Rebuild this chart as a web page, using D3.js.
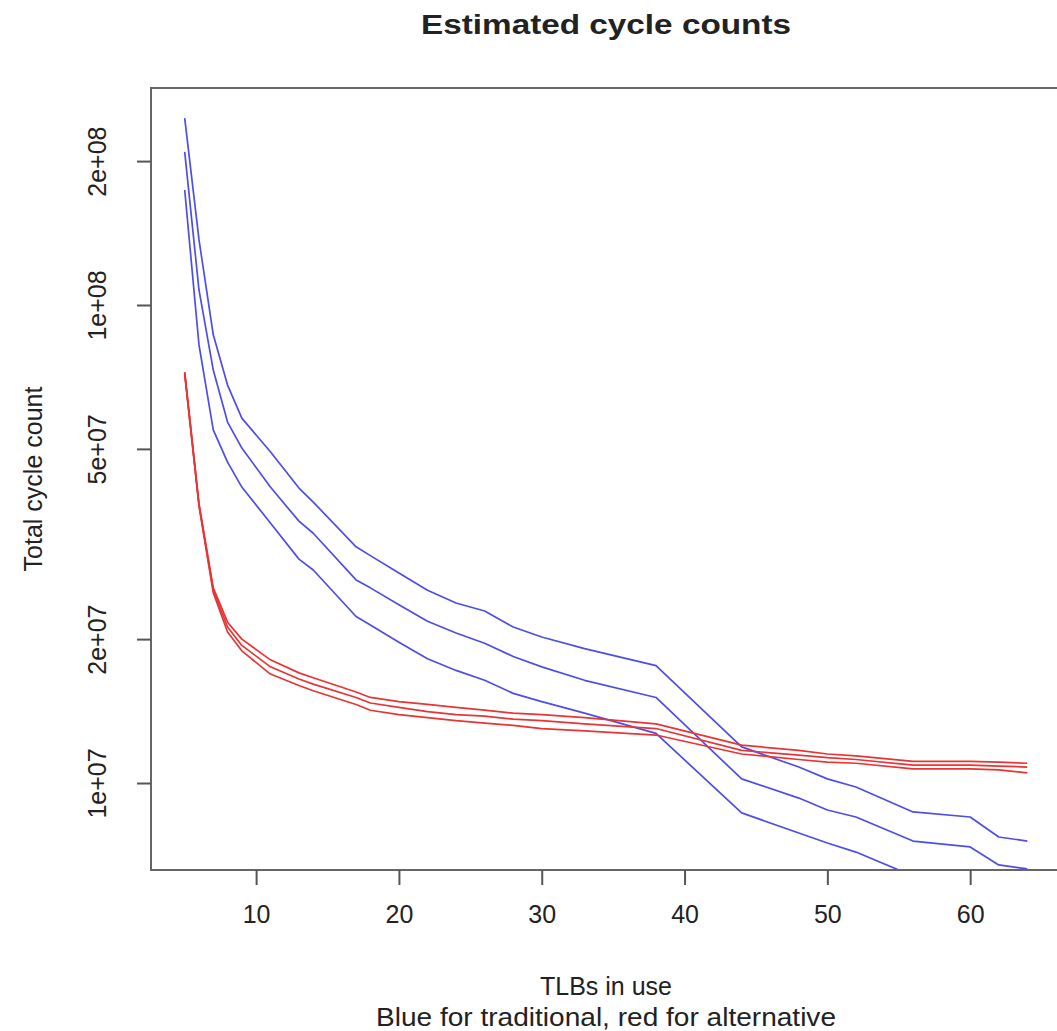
<!DOCTYPE html>
<html>
<head>
<meta charset="utf-8">
<script src="https://cdn.jsdelivr.net/npm/d3@7"></script>
<style>
  html, body { margin: 0; padding: 0; background: #fff; }
  svg { display: block; }
  text { font-family: "Liberation Sans", Arial, Helvetica, sans-serif; fill: #222; }
</style>
</head>
<body>
<div id="chart"></div>
<script>
// TLBs in use (x values shared by every series)
var tlbs = [5, 6, 7, 8, 9, 11, 13, 14, 17, 18, 20, 22, 24, 26, 28, 30, 33, 38, 44, 48, 50, 52, 56, 60, 62, 64];

// traditional (blue)
var blueA = [2.46e8, 1.37e8, 8.66e7, 6.80e7, 5.80e7, 4.93e7, 4.14e7, 3.87e7, 3.12e7, 2.99e7, 2.75e7, 2.53e7, 2.38e7,
             2.29e7, 2.12e7, 2.02e7, 1.91e7, 1.76e7, 1.19e7, 1.08e7, 1.02e7, 9.81e6, 8.70e6, 8.49e6, 7.71e6, 7.56e6];
var blueB = [2.09e8, 1.075e8, 7.31e7, 5.69e7, 5.02e7, 4.16e7, 3.53e7, 3.33e7, 2.66e7, 2.56e7, 2.36e7, 2.18e7, 2.06e7,
             1.96e7, 1.84e7, 1.75e7, 1.64e7, 1.51e7, 1.02e7, 9.30e6, 8.78e6, 8.49e6, 7.56e6, 7.35e6, 6.74e6, 6.61e6];
var blueC = [1.74e8, 8.25e7, 5.48e7, 4.69e7, 4.16e7, 3.50e7, 2.94e7, 2.79e7, 2.23e7, 2.14e7, 1.97e7, 1.82e7, 1.72e7,
             1.64e7, 1.54e7, 1.48e7, 1.40e7, 1.27e7, 8.66e6, 7.86e6, 7.49e6, 7.17e6, 6.39e6, 6.21e6, 5.69e6, 5.58e6];

// alternative (red)
var redA = [7.24e7, 3.84e7, 2.56e7, 2.17e7, 2.00e7, 1.81e7, 1.70e7, 1.66e7, 1.55e7, 1.51e7, 1.48e7, 1.46e7, 1.44e7,
            1.42e7, 1.40e7, 1.39e7, 1.37e7, 1.33e7, 1.20e7, 1.17e7, 1.15e7, 1.14e7, 1.11e7, 1.11e7, 1.106e7, 1.10e7];
var redB = [7.21e7, 3.82e7, 2.53e7, 2.12e7, 1.94e7, 1.75e7, 1.65e7, 1.61e7, 1.51e7, 1.47e7, 1.44e7, 1.41e7, 1.39e7,
            1.38e7, 1.36e7, 1.35e7, 1.33e7, 1.30e7, 1.17e7, 1.144e7, 1.13e7, 1.12e7, 1.09e7, 1.09e7, 1.085e7, 1.08e7];
var redC = [7.17e7, 3.80e7, 2.50e7, 2.07e7, 1.89e7, 1.69e7, 1.60e7, 1.56e7, 1.46e7, 1.42e7, 1.39e7, 1.37e7, 1.35e7,
            1.335e7, 1.32e7, 1.30e7, 1.285e7, 1.26e7, 1.15e7, 1.12e7, 1.106e7, 1.10e7, 1.07e7, 1.07e7, 1.065e7, 1.05e7];

var xTicks = [10, 20, 30, 40, 50, 60];
var yTicks = [1e7, 2e7, 5e7, 1e8, 2e8];
var yTickLabels = ["1e+07", "2e+07", "5e+07", "1e+08", "2e+08"];

var W = 1057, H = 1031;
var box = {left: 151, top: 88, right: 1061, bottom: 870};

var svg = d3.select("#chart").append("svg").attr("width", W).attr("height", H);

var x = d3.scaleLinear().domain([2.64, 66.36]).range([box.left, box.right]);
var y = d3.scaleLog().domain([6.577e6, 2.844e8]).range([box.bottom, box.top]);

svg.append("defs").append("clipPath").attr("id", "plotclip")
  .append("rect").attr("x", box.left).attr("y", box.top)
  .attr("width", box.right - box.left).attr("height", box.bottom - box.top);

var line = d3.line().x(function (d) { return x(d[0]); }).y(function (d) { return y(d[1]); });

var series = [
  {v: blueA, c: "#4d4de8"}, {v: blueB, c: "#4d4de8"}, {v: blueC, c: "#4d4de8"},
  {v: redA, c: "#e83434"}, {v: redB, c: "#e83434"}, {v: redC, c: "#e83434"}
];

var plot = svg.append("g").attr("clip-path", "url(#plotclip)");
series.forEach(function (s) {
  plot.append("path")
    .datum(d3.zip(tlbs, s.v))
    .attr("d", line)
    .attr("fill", "none")
    .attr("stroke", s.c)
    .attr("stroke-width", 1.7)
    .attr("stroke-linejoin", "round");
});

// box
svg.append("rect")
  .attr("x", box.left).attr("y", box.top)
  .attr("width", box.right - box.left).attr("height", box.bottom - box.top)
  .attr("fill", "none").attr("stroke", "#666").attr("stroke-width", 2);

// x axis
var xAxis = svg.append("g").attr("transform", "translate(0," + box.bottom + ")")
  .call(d3.axisBottom(x).tickValues(xTicks).tickSize(15).tickPadding(20).tickFormat(d3.format("d")));
xAxis.select(".domain").remove();
xAxis.selectAll(".tick line").attr("stroke", "#555").attr("stroke-width", 2);
xAxis.selectAll(".tick text").attr("font-size", "25px").attr("fill", "#222")
  .attr("font-family", "Liberation Sans, Arial, sans-serif");

// y axis
var yAxis = svg.append("g").attr("transform", "translate(" + box.left + ",0)")
  .call(d3.axisLeft(y).tickValues(yTicks).tickSize(14)
    .tickFormat(function (d, i) { return yTickLabels[i]; }));
yAxis.select(".domain").remove();
yAxis.selectAll(".tick line").attr("stroke", "#555").attr("stroke-width", 2);
yAxis.selectAll(".tick text")
  .attr("font-size", "25px").attr("fill", "#222")
  .attr("font-family", "Liberation Sans, Arial, sans-serif")
  .attr("x", null).attr("dy", null)
  .attr("text-anchor", "middle")
  .attr("transform", "translate(-45,0) rotate(-90)");

// titles
svg.append("text").attr("x", 606).attr("y", 34)
  .attr("text-anchor", "middle").attr("font-size", "28px").attr("font-weight", "bold")
  .attr("textLength", 370).attr("lengthAdjust", "spacingAndGlyphs")
  .text("Estimated cycle counts");

svg.append("text").attr("x", 606).attr("y", 995)
  .attr("text-anchor", "middle").attr("font-size", "25px")
  .text("TLBs in use");

svg.append("text").attr("x", 606).attr("y", 1026)
  .attr("text-anchor", "middle").attr("font-size", "25px")
  .attr("textLength", 460).attr("lengthAdjust", "spacingAndGlyphs")
  .text("Blue for traditional, red for alternative");

svg.append("text")
  .attr("transform", "translate(42," + ((box.top + box.bottom) / 2) + ") rotate(-90)")
  .attr("text-anchor", "middle").attr("font-size", "25px")
  .text("Total cycle count");
</script>
</body>
</html>
